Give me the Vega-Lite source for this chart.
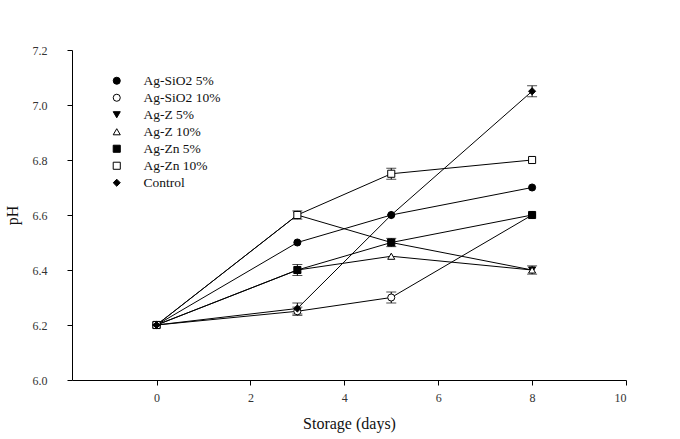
{
  "$schema": "https://vega.github.io/schema/vega-lite/v6.json",
  "width": 554,
  "height": 330,
  "autosize": "none",
  "padding": {"left": 72, "top": 50, "right": 54, "bottom": 59},
  "background": "white",
  "config": {
    "view": {"stroke": null},
    "font": "Liberation Serif",
    "axis": {"grid": false, "domainColor": "black", "tickColor": "black", "labelColor": "#333", "titleColor": "#111", "labelFont": "Liberation Serif", "titleFont": "Liberation Serif", "titleFontWeight": "normal", "labelFontSize": 12, "titleFontSize": 15, "tickSize": 5, "domainWidth": 1},
    "legend": {"labelFont": "Liberation Serif", "labelFontSize": 13.5, "labelColor": "#111", "symbolStrokeColor": "black", "symbolStrokeWidth": 1, "symbolSize": 50}
  },
  "data": {
    "values": [
      {"series": "Ag-SiO2 5%", "day": 0, "ph": 6.2, "err": 0},
      {"series": "Ag-SiO2 5%", "day": 3, "ph": 6.5, "err": 0},
      {"series": "Ag-SiO2 5%", "day": 5, "ph": 6.6, "err": 0},
      {"series": "Ag-SiO2 5%", "day": 8, "ph": 6.7, "err": 0},
      {"series": "Ag-SiO2 10%", "day": 0, "ph": 6.2, "err": 0},
      {"series": "Ag-SiO2 10%", "day": 3, "ph": 6.25, "err": 0.015},
      {"series": "Ag-SiO2 10%", "day": 5, "ph": 6.3, "err": 0.02},
      {"series": "Ag-SiO2 10%", "day": 8, "ph": 6.6, "err": 0},
      {"series": "Ag-Z 5%", "day": 0, "ph": 6.2, "err": 0},
      {"series": "Ag-Z 5%", "day": 3, "ph": 6.6, "err": 0},
      {"series": "Ag-Z 5%", "day": 5, "ph": 6.5, "err": 0.015},
      {"series": "Ag-Z 5%", "day": 8, "ph": 6.4, "err": 0.015},
      {"series": "Ag-Z 10%", "day": 0, "ph": 6.2, "err": 0},
      {"series": "Ag-Z 10%", "day": 3, "ph": 6.4, "err": 0.02},
      {"series": "Ag-Z 10%", "day": 5, "ph": 6.45, "err": 0},
      {"series": "Ag-Z 10%", "day": 8, "ph": 6.4, "err": 0},
      {"series": "Ag-Zn 5%", "day": 0, "ph": 6.2, "err": 0},
      {"series": "Ag-Zn 5%", "day": 3, "ph": 6.4, "err": 0},
      {"series": "Ag-Zn 5%", "day": 5, "ph": 6.5, "err": 0},
      {"series": "Ag-Zn 5%", "day": 8, "ph": 6.6, "err": 0},
      {"series": "Ag-Zn 10%", "day": 0, "ph": 6.2, "err": 0},
      {"series": "Ag-Zn 10%", "day": 3, "ph": 6.6, "err": 0.015},
      {"series": "Ag-Zn 10%", "day": 5, "ph": 6.75, "err": 0.02},
      {"series": "Ag-Zn 10%", "day": 8, "ph": 6.8, "err": 0},
      {"series": "Control", "day": 0, "ph": 6.2, "err": 0},
      {"series": "Control", "day": 3, "ph": 6.26, "err": 0.02},
      {"series": "Control", "day": 5, "ph": 6.6, "err": 0},
      {"series": "Control", "day": 8, "ph": 7.05, "err": 0.02}
    ]
  },
  "layer": [
    {
      "mark": {"type": "line", "color": "black", "strokeWidth": 1},
      "encoding": {
        "x": {"field": "day", "type": "quantitative", "scale": {"domain": [-1.8, 10], "nice": false}, "axis": {"values": [0, 2, 4, 6, 8, 10], "title": "Storage (days)", "labelPadding": 7, "titlePadding": 12, "titleFontSize": 16}},
        "y": {"field": "ph", "type": "quantitative", "scale": {"domain": [6.0, 7.2], "nice": false, "zero": false}, "axis": {"values": [6.0, 6.2, 6.4, 6.6, 6.8, 7.0, 7.2], "format": ".1f", "title": "pH", "labelPadding": 20, "titlePadding": 12, "titleFontSize": 16}},
        "detail": {"field": "series"}
      }
    },
    {
      "transform": [{"filter": "datum.err > 0"}],
      "mark": {"type": "errorbar", "ticks": {"size": 10, "color": "black"}, "color": "black", "thickness": 1},
      "encoding": {
        "x": {"field": "day", "type": "quantitative", "title": "Storage (days)"},
        "y": {"field": "ph", "type": "quantitative", "title": "pH"},
        "yError": {"field": "err"}
      }
    },
    {
      "mark": {"type": "point", "strokeWidth": 1, "opacity": 1, "filled": false},
      "encoding": {
        "x": {"field": "day", "type": "quantitative", "title": "Storage (days)"},
        "y": {"field": "ph", "type": "quantitative", "title": "pH"},
        "shape": {"field": "series", "type": "nominal", "scale": {"domain": ["Ag-SiO2 5%", "Ag-SiO2 10%", "Ag-Z 5%", "Ag-Z 10%", "Ag-Zn 5%", "Ag-Zn 10%", "Control"], "range": ["circle", "circle", "triangle-down", "triangle-up", "square", "square", "diamond"]}, "legend": {"title": null, "orient": "none", "legendX": 38, "legendY": 24, "rowPadding": 2, "labelOffset": 20}},
        "fill": {"field": "series", "type": "nominal", "scale": {"domain": ["Ag-SiO2 5%", "Ag-SiO2 10%", "Ag-Z 5%", "Ag-Z 10%", "Ag-Zn 5%", "Ag-Zn 10%", "Control"], "range": ["black", "white", "black", "white", "black", "white", "black"]}, "legend": {"title": null, "orient": "none", "legendX": 38, "legendY": 24, "rowPadding": 2, "labelOffset": 20}},
        "stroke": {"field": "series", "type": "nominal", "scale": {"domain": ["Ag-SiO2 5%", "Ag-SiO2 10%", "Ag-Z 5%", "Ag-Z 10%", "Ag-Zn 5%", "Ag-Zn 10%", "Control"], "range": ["black", "black", "black", "black", "black", "black", "black"]}, "legend": {"title": null, "orient": "none", "legendX": 38, "legendY": 24, "rowPadding": 2, "labelOffset": 20}},
        "size": {"value": 50}
      }
    }
  ]
}
